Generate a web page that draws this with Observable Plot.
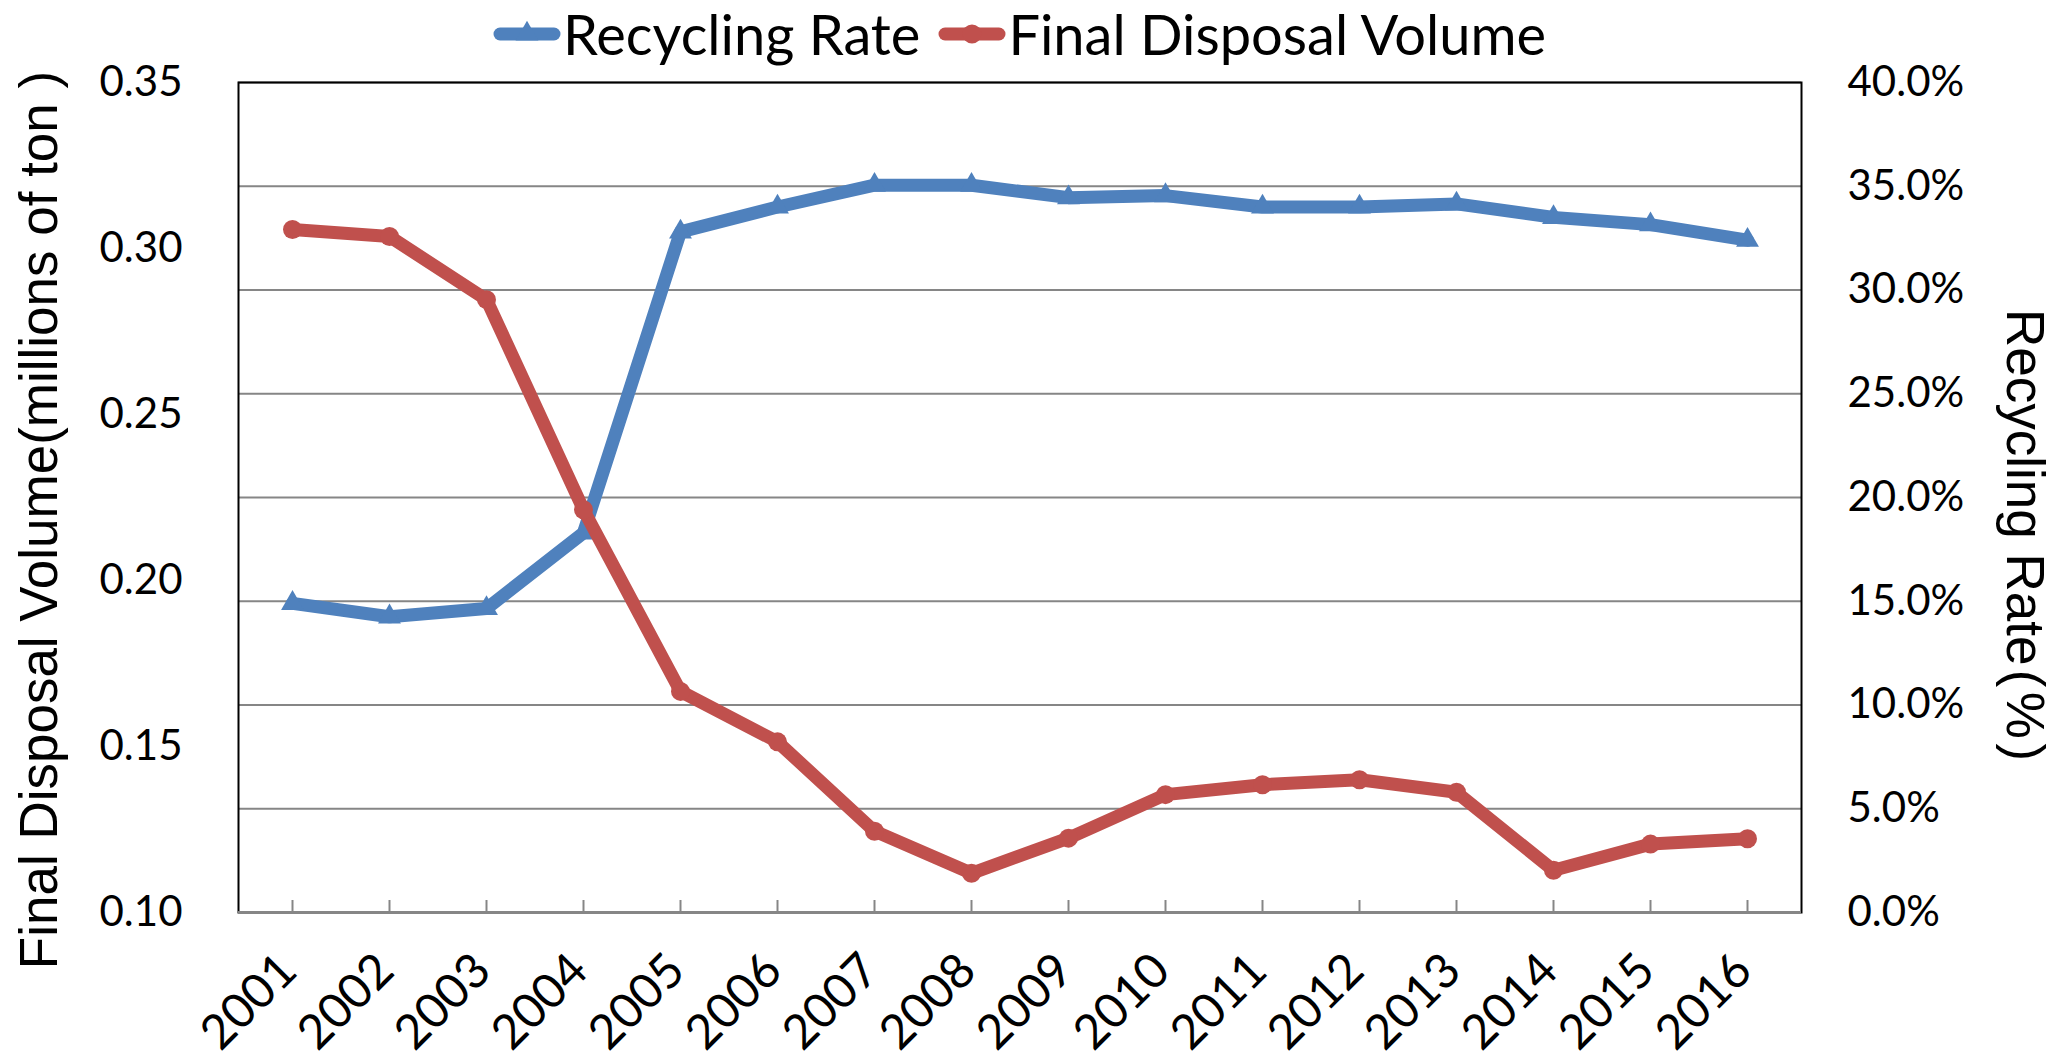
<!DOCTYPE html>
<html>
<head>
<meta charset="utf-8">
<script src="https://cdn.jsdelivr.net/npm/d3@7"></script>
<script src="https://cdn.jsdelivr.net/npm/@observablehq/plot@0.6"></script>
<style>
  body { margin: 0; background: #fff; }
  #wrap { position: relative; width: 2072px; height: 1060px; overflow: hidden; background: #fff; }
  #chart { position: absolute; left: 0; top: 0; }
  #legend { position: absolute; left: 238px; width: 1563px; top: 0px; display: flex; justify-content: center; align-items: flex-start;
            font-family: Lato, Carlito, "Open Sans", sans-serif; font-size: 56px; color: #000; white-space: nowrap; }
  .item { display: flex; align-items: flex-start; }
  .item svg { display: block; margin-right: 2px; margin-top: 18px; }
  .item span { display: inline-block; line-height: 68px; height: 68px; }
  .item + .item { margin-left: 18px; }
  .ytitle { position: absolute; white-space: nowrap; font-family: "Liberation Sans", Arial, sans-serif;
            font-size: 53px; color: #000; line-height: 1; }
</style>
</head>
<body>
<div id="wrap">
  <div id="chart"></div>
  <div id="legend"></div>
  <div class="ytitle" id="ylTitle"></div>
  <div class="ytitle" id="yrTitle"></div>
</div>
<script>
// ---- data ----
const years = ["2001","2002","2003","2004","2005","2006","2007","2008","2009","2010","2011","2012","2013","2014","2015","2016"];
const recyclingRate = [14.9, 14.25, 14.65, 18.3, 32.8, 34.0, 35.05, 35.05, 34.45, 34.55, 34.0, 34.0, 34.15, 33.5, 33.15, 32.4]; // %
const finalDisposal = [0.3057, 0.3036, 0.2846, 0.2213, 0.1666, 0.1514, 0.1245, 0.1118, 0.1224, 0.1355, 0.1385, 0.1400, 0.1362, 0.1127, 0.1206, 0.1222]; // millions of ton
const leftTicks = [0.10, 0.15, 0.20, 0.25, 0.30, 0.35];
const rightTicks = [0, 5, 10, 15, 20, 25, 30, 35, 40];
const seriesNames = ["Recycling Rate", "Final Disposal Volume"];
const seriesColors = ["#4F81BD", "#C0504D"];
const leftTitle = "Final Disposal Volume(millions of ton )";
const rightTitle = "Recycling Rate\u200A(\u200A%\u200A)";

// right axis (0–40 %) shares the left axis range (0.10–0.35)
const leftDomain = [0.10, 0.35];
const rightDomain = [0, 40];
const toLeft = r => leftDomain[0] + (r - rightDomain[0]) / (rightDomain[1] - rightDomain[0]) * (leftDomain[1] - leftDomain[0]);
const toRight = v => rightDomain[0] + (v - leftDomain[0]) / (leftDomain[1] - leftDomain[0]) * (rightDomain[1] - rightDomain[0]);

const rrData = years.map((y, i) => ({year: y, v: toLeft(recyclingRate[i])}));
const fdData = years.map((y, i) => ({year: y, v: finalDisposal[i]}));

const chart = Plot.plot({
  width: 2072,
  height: 1060,
  marginLeft: 238,
  marginRight: 271,
  marginTop: 82,
  marginBottom: 148,
  style: {fontFamily: "Lato, Carlito, 'Open Sans', sans-serif", background: "white", color: "black", overflow: "visible"},
  x: {type: "point", domain: years, padding: 0.5, label: null},
  y: {domain: leftDomain, label: null},
  marks: [
    Plot.gridY(rightTicks.map(toLeft), {stroke: "#868686", strokeOpacity: 1, strokeWidth: 2}),
    Plot.frame({stroke: "#000", strokeWidth: 2}),
    Plot.ruleY([leftDomain[0]], {stroke: "#868686", strokeWidth: 3}),
    Plot.axisX({tickSize: -12, stroke: "#868686", strokeWidth: 2, strokeOpacity: 1, tickFormat: () => "", label: null}),
    Plot.axisX({tickSize: 0, tickPadding: 50, tickRotate: -45, fontSize: 48, dx: -4, label: null}),
    Plot.axisY(leftTicks, {anchor: "left", tickSize: 0, tickPadding: 56, fontSize: 42, tickFormat: d => d.toFixed(2), label: null}),
    Plot.axisY(rightTicks.map(toLeft), {anchor: "right", tickSize: 0, tickPadding: 46, fontSize: 42,
      tickFormat: d => toRight(d).toFixed(1) + "%", label: null}),
    Plot.line(rrData, {x: "year", y: "v", stroke: seriesColors[0], strokeWidth: 13, strokeLinejoin: "round", strokeLinecap: "round"}),
    Plot.dot(rrData, {x: "year", y: "v", symbol: "triangle", r: 8.5, fill: seriesColors[0], stroke: "none"}),
    Plot.line(fdData, {x: "year", y: "v", stroke: seriesColors[1], strokeWidth: 13, strokeLinejoin: "round", strokeLinecap: "round"}),
    Plot.dot(fdData, {x: "year", y: "v", symbol: "circle", r: 9.5, fill: seriesColors[1], stroke: "none"})
  ]
});
document.getElementById("chart").appendChild(chart);

// ---- legend ----
const legend = document.getElementById("legend");
const markerShapes = ["triangle", "circle"];
seriesNames.forEach((name, i) => {
  const item = document.createElement("div");
  item.className = "item";
  const c = seriesColors[i];
  const marker = markerShapes[i] === "triangle"
    ? `<path d="${d3.symbol(d3.symbolTriangle, Math.PI * 8.5 * 8.5)()}" transform="translate(34,16)" fill="${c}"/>`
    : `<circle cx="34" cy="16" r="9.5" fill="${c}"/>`;
  item.innerHTML = `<svg width="68" height="32" viewBox="0 0 68 32"><line x1="7" x2="61" y1="16" y2="16" stroke="${c}" stroke-width="13" stroke-linecap="round"/>${marker}</svg><span>${name}</span>`;
  legend.appendChild(item);
});

// ---- axis titles ----
const yl = document.getElementById("ylTitle");
yl.textContent = leftTitle;
yl.style.left = "38px"; yl.style.top = "520px";
yl.style.transform = "translate(-50%,-50%) rotate(-90deg)";
const yr = document.getElementById("yrTitle");
yr.textContent = rightTitle;
yr.style.left = "2025px"; yr.style.top = "535px";
yr.style.transform = "translate(-50%,-50%) rotate(90deg)";
</script>
</body>
</html>
